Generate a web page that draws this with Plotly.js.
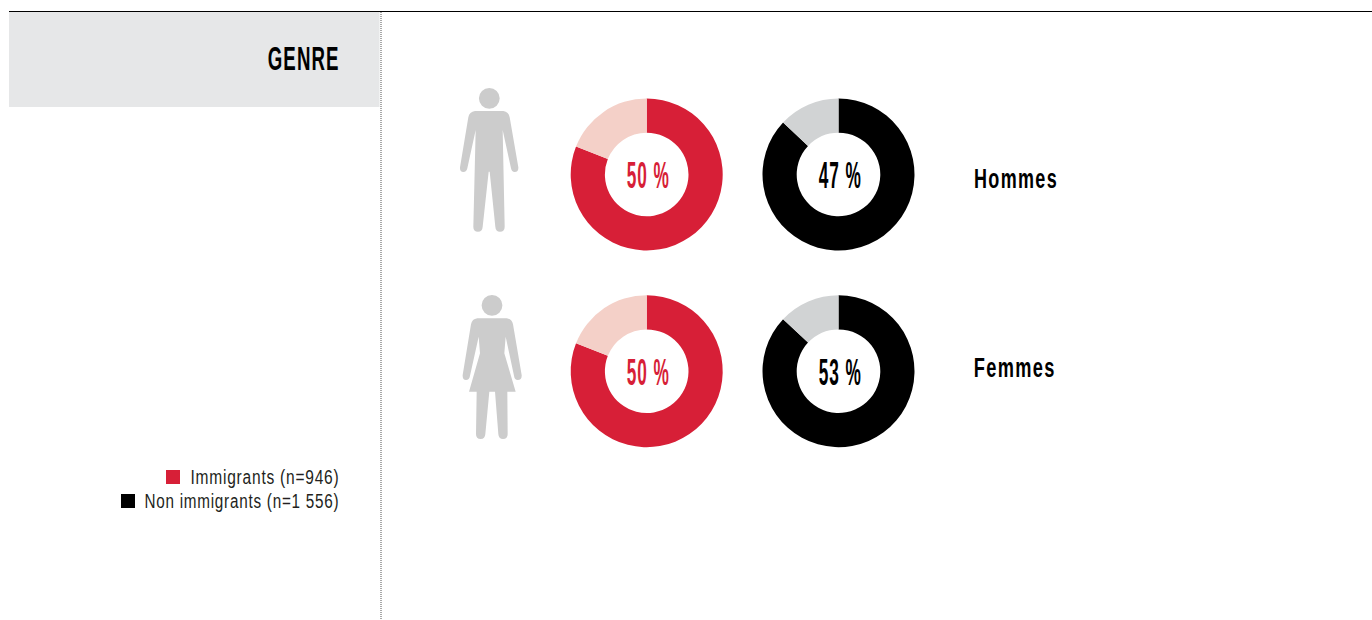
<!DOCTYPE html>
<html lang="fr">
<head>
<meta charset="utf-8">
<script src="https://cdn.plot.ly/plotly-3.0.1.min.js"></script>
<style>html,body{margin:0;padding:0;background:#fff;overflow:hidden}#chart{width:1372px;height:620px}</style>
</head>
<body>
<div id="chart"></div>
<script>
// ----- data -----
var panelTitle = 'GENRE';
var categories = ['Hommes', 'Femmes'];
var ringSlices = ['Part', 'Reste'];
var immigrantRing = [[81, 19], [81, 19]];
var nonImmigrantRing = [[87, 13], [87, 13]];
var immigrantLabels = ['50 %', '50 %'];
var nonImmigrantLabels = ['47 %', '53 %'];
var legendLabels = ['Immigrants (n=946)', 'Non immigrants (n=1 556)'];

// ----- styles and layout -----
var W = 1372, H = 620;
var RED = '#d71f37', PALE = '#f4d0c8', BLACK = '#000000', GREY = '#d1d3d4', ICON = '#cccccc';
var FONT = '"Liberation Sans Narrow","Liberation Sans",sans-serif';
var RAD = 76, rowY = [174.5, 371.2], colX = [646.7, 838.5];

function domainFor(cx, cy) {
  return { x: [(cx - RAD) / W, (cx + RAD) / W], y: [1 - (cy + RAD) / H, 1 - (cy - RAD) / H] };
}
function ring(values, colors, cx, cy, name) {
  return { type: 'pie', name: name, labels: ringSlices, values: values, sort: false, direction: 'clockwise', rotation: 0,
    hole: 0.55, textinfo: 'none', hoverinfo: 'label+value', showlegend: false,
    marker: { colors: colors, line: { width: 0 } }, domain: domainFor(cx, cy) };
}
var traces = [];
categories.forEach(function (c, i) {
  traces.push(ring(immigrantRing[i], [RED, PALE], colX[0], rowY[i], c + ' immigrants'));
  traces.push(ring(nonImmigrantRing[i], [BLACK, GREY], colX[1], rowY[i], c + ' non immigrants'));
});

// labels: text, centre x, centre y, font size, drawn width, colour, weight, letter spacing
var labelSpecs = [
  [panelTitle, 303.5, 58.5, 33, 72, BLACK, 'bold', 2],
  [immigrantLabels[0], 648.2, 175.5, 37, 43, RED, 'bold', 2],
  [nonImmigrantLabels[0], 840.2, 175.5, 37, 43, BLACK, 'bold', 2],
  [immigrantLabels[1], 648.2, 372.5, 37, 43, RED, 'bold', 2],
  [nonImmigrantLabels[1], 840.2, 372.5, 37, 43, BLACK, 'bold', 2],
  [categories[0], 1015.6, 179, 27, 84, BLACK, 'bold', 2],
  [categories[1], 1014.6, 368, 27, 82, BLACK, 'bold', 2],
  [legendLabels[0], 265, 476.5, 20, 149, '#231f20', 'normal', 1],
  [legendLabels[1], 242, 500.5, 20, 195, '#231f20', 'normal', 1]
];
var annotations = labelSpecs.map(function (s) {
  return { xref: 'x', yref: 'y', x: s[1], y: s[2], xanchor: 'center', yanchor: 'middle', showarrow: false,
    text: s[0], font: { family: FONT, size: s[3], color: s[5], weight: s[6] } };
});

// silhouettes traced at 3x with a local origin
function trace3x(path, ox, oy) {
  var n = 0;
  return path.replace(/\d+(\.\d+)?/g, function (m) { var v = parseFloat(m) / 3 + (n++ % 2 ? oy : ox); return v.toFixed(2); });
}
var MAN = 'M105 93 L190 93 Q206 95 209 112 L235 262 Q236 276 224 276 Q215 276 213 265 L188 150 L194 440 Q194 455 180 455 Q167 455 166 440 L149 275 L146 275 L128 440 Q127 455 114 455 Q100 455 100 440 L107 150 L82 265 Q80 276 70 276 Q59 276 60 262 L85 112 Q88 95 105 93 Z';
var WOMAN = 'M112 100 L200 100 Q216 102 219 118 L245 270 Q246 285 233 285 Q224 285 222 272 L197 155 L193 205 L227 320 L202 320 L203 447 Q203 462 189 462 Q176 462 175 447 L165 320 L148 320 L136 447 Q135 462 122 462 Q108 462 108 447 L110 320 L87 320 L120 205 L116 155 L90 272 Q88 285 78 285 Q67 285 68 270 L93 118 Q96 102 112 100 Z';

function rect(x0, y0, x1, y1, color) {
  return { type: 'rect', xref: 'x', yref: 'y', x0: x0, y0: y0, x1: x1, y1: y1, fillcolor: color, line: { width: 0 }, layer: 'below' };
}
function disc(cx, cy, r, color) {
  return { type: 'circle', xref: 'x', yref: 'y', x0: cx - r, x1: cx + r, y0: cy - r, y1: cy + r, fillcolor: color, line: { width: 0 }, layer: 'below' };
}
function blob(d, color) {
  return { type: 'path', xref: 'x', yref: 'y', path: d, fillcolor: color, line: { width: 0 }, layer: 'below' };
}
var shapes = [
  rect(9, 12, 379.5, 107, '#e6e7e8'),
  { type: 'line', xref: 'x', yref: 'y', x0: 9, x1: W, y0: 11.5, y1: 11.5, line: { color: '#000000', width: 1 } },
  { type: 'line', xref: 'x', yref: 'y', x0: 381, x1: 381, y0: 12, y1: H, line: { color: '#8c8c8c', width: 1.5, dash: '1px,1px' } },
  rect(166, 470, 180, 484, RED),
  rect(121, 494, 135, 508, BLACK),
  disc(489.3, 98.3, 10.4, ICON),
  blob(trace3x(MAN, 440, 80), ICON),
  disc(492, 305.3, 10.4, ICON),
  blob(trace3x(WOMAN, 440, 285), ICON)
];

var layout = {
  width: W, height: H, margin: { l: 0, r: 0, t: 0, b: 0 }, paper_bgcolor: '#ffffff', plot_bgcolor: 'rgba(0,0,0,0)', showlegend: false,
  xaxis: { range: [0, W], visible: false, fixedrange: true },
  yaxis: { range: [H, 0], visible: false, fixedrange: true },
  shapes: shapes, annotations: annotations
};
traces.unshift({ type: 'scatter', x: [], y: [], mode: 'markers', showlegend: false, hoverinfo: 'skip' });

Plotly.newPlot('chart', traces, layout, { displayModeBar: false }).then(function () {
  // fit each label to the condensed width of the original lettering
  document.querySelectorAll('.annotation').forEach(function (g) {
    var i = +g.getAttribute('data-index');
    var t = g.querySelector('text');
    if (t && labelSpecs[i]) {
      t.style.letterSpacing = labelSpecs[i][7] + 'px';
      t.setAttribute('textLength', labelSpecs[i][4]);
      t.setAttribute('lengthAdjust', 'spacingAndGlyphs');
    }
  });
});
</script>
</body>
</html>
